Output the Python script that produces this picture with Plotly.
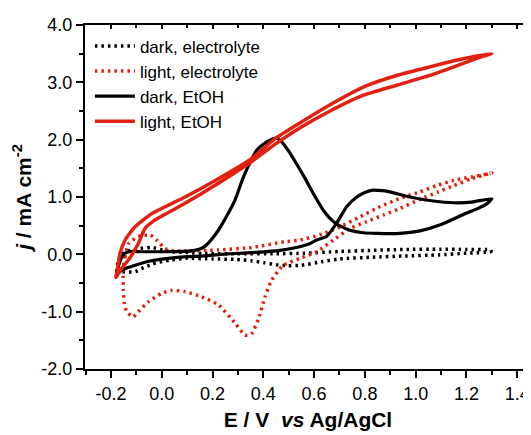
import plotly.graph_objects as go

# ---------------- data ----------------
# dark, electrolyte (black dotted loop)
dark_el_E = [-0.178, -0.17, -0.15, -0.13, -0.09, -0.04, 0.0, 0.03, 0.10, 0.163, 0.30, 0.45,
             0.563, 0.70, 0.83, 0.95, 1.096, 1.20, 1.296,
             1.296, 1.20, 1.09, 0.95, 0.83, 0.70, 0.63, 0.55, 0.497, 0.45, 0.403, 0.35,
             0.296, 0.20, 0.097, 0.03, -0.037, -0.08, -0.103, -0.14, -0.17, -0.178]
dark_el_j = [-0.35, -0.09, 0.02, 0.06, 0.10, 0.12, 0.08, 0.05, 0.03, 0.014, 0.01, 0.01,
             0.02, 0.05, 0.07, 0.085, 0.09, 0.085, 0.075,
             0.05, 0.02, -0.01, -0.03, -0.05, -0.08, -0.13, -0.19, -0.20, -0.18, -0.145, -0.11,
             -0.09, -0.08, -0.07, -0.10, -0.17, -0.25, -0.30, -0.31, -0.30, -0.35]

# light, electrolyte (red dotted loop)
light_el_E = [-0.152, -0.145, -0.13, -0.092, -0.046, -0.02, 0.013, 0.05, 0.092, 0.223, 0.354,
              0.485, 0.545, 0.623, 0.702, 0.781, 0.859, 0.938, 1.017, 1.089, 1.15, 1.22, 1.29,
              1.30, 1.22, 1.15, 1.089, 1.017, 0.938, 0.872, 0.807, 0.741, 0.676, 0.61, 0.545,
              0.492, 0.472, 0.433, 0.407, 0.38, 0.354, 0.328, 0.289, 0.223, 0.157, 0.092, 0.039,
              0.0, -0.053, -0.092, -0.112, -0.138, -0.147, -0.151, -0.152, -0.152]
light_el_j = [-0.30, -0.05, 0.19, 0.31, 0.34, 0.25, 0.10, 0.06, 0.06, 0.075, 0.12,
              0.22, 0.25, 0.34, 0.48, 0.655, 0.83, 0.975, 1.09, 1.21, 1.29, 1.35, 1.41,
              1.42, 1.32, 1.20, 1.09, 0.96, 0.80, 0.685, 0.57, 0.45, 0.25, 0.045, -0.07,
              -0.16, -0.22, -0.45, -0.74, -1.14, -1.38, -1.41, -1.20, -0.88, -0.74, -0.65, -0.63,
              -0.68, -0.83, -1.00, -1.09, -1.00, -0.85, -0.62, -0.39, -0.30]

# dark, EtOH (black solid loop)
dark_et_E = [-0.180, -0.171, -0.150, -0.105, -0.05, 0.026, 0.10, 0.157, 0.269, 0.37, 0.466,
             0.53, 0.584, 0.61, 0.649, 0.688, 0.728, 0.768, 0.80, 0.833, 0.87, 0.899, 0.977,
             1.069, 1.15, 1.22, 1.30,
             1.28, 1.25, 1.19, 1.10, 1.017, 0.938, 0.846, 0.794, 0.741, 0.70, 0.676, 0.636,
             0.597, 0.565, 0.53, 0.50, 0.475, 0.453, 0.43, 0.40, 0.375, 0.354, 0.32, 0.289,
             0.255, 0.223, 0.20, 0.18, 0.16, 0.13, 0.08, 0.0, -0.08, -0.12, -0.14, -0.155, -0.17,
             -0.180]
dark_et_j = [-0.40, -0.33, -0.26, -0.19, -0.12, -0.07, -0.04, -0.03, 0.01, 0.035, 0.07,
             0.12, 0.19, 0.25, 0.31, 0.54, 0.83, 1.00, 1.08, 1.12, 1.11, 1.09, 1.00,
             0.93, 0.90, 0.91, 0.97,
             0.88, 0.81, 0.70, 0.52, 0.41, 0.365, 0.365, 0.376, 0.42, 0.50, 0.57, 0.77,
             1.06, 1.32, 1.585, 1.80, 1.95, 2.02, 2.00, 1.92, 1.82, 1.66, 1.33, 0.95,
             0.66, 0.42, 0.28, 0.18, 0.11, 0.07, 0.05, 0.045, 0.045, 0.05, 0.03, -0.03, -0.20,
             -0.40]

# light, EtOH (red solid loop)
light_et_E = [-0.180, -0.171, -0.150, -0.131, -0.092, -0.066, -0.026, 0.092, 0.223, 0.354,
              0.45, 0.55, 0.663, 0.794, 0.925, 1.056, 1.187, 1.27, 1.30,
              1.187, 1.056, 0.925, 0.80, 0.663, 0.55, 0.45, 0.354, 0.223, 0.092,
              -0.039, -0.105, -0.144, -0.164, -0.177, -0.180]
light_et_j = [-0.40, -0.33, -0.20, -0.10, 0.19, 0.45, 0.60, 0.89, 1.24, 1.62,
              1.93, 2.22, 2.50, 2.775, 2.95, 3.12, 3.33, 3.46, 3.50,
              3.41, 3.27, 3.12, 2.93, 2.61, 2.31, 2.03, 1.67, 1.32, 1.00,
              0.71, 0.48, 0.25, 0.02, -0.33, -0.40]

series_names = ["dark, electrolyte", "light, electrolyte", "dark, EtOH", "light, EtOH"]

x_tick_vals = [-0.2, 0.0, 0.2, 0.4, 0.6, 0.8, 1.0, 1.2, 1.4]
x_tick_text = ["-0.2", "0.0", "0.2", "0.4", "0.6", "0.8", "1.0", "1.2", "1.4"]
y_tick_vals = [-2, -1, 0, 1, 2, 3, 4]
y_tick_text = ["-2.0", "-1.0", "0.0", "1.0", "2.0", "3.0", "4.0"]

# ---------------- figure ----------------
RED = "#E2200F"
FONT = "Liberation Sans, Arial, Helvetica, sans-serif"
DOT = "2.5px,4px"

fig = go.Figure()
fig.add_trace(go.Scatter(x=dark_el_E, y=dark_el_j, mode="lines", name=series_names[0],
                         line=dict(color="black", width=3.5, dash=DOT, shape="spline", smoothing=0.5)))
fig.add_trace(go.Scatter(x=light_el_E, y=light_el_j, mode="lines", name=series_names[1],
                         line=dict(color=RED, width=3.5, dash=DOT, shape="spline", smoothing=0.5)))
fig.add_trace(go.Scatter(x=dark_et_E, y=dark_et_j, mode="lines", name=series_names[2],
                         line=dict(color="black", width=3.2, shape="spline", smoothing=0.5)))
fig.add_trace(go.Scatter(x=light_et_E, y=light_et_j, mode="lines", name=series_names[3],
                         line=dict(color=RED, width=3.5, shape="spline", smoothing=0.5)))
# helper trace so the top (mirror) axis with inward ticks is drawn
fig.add_trace(go.Scatter(x=[0.5], y=[None], xaxis="x2", mode="lines", showlegend=False,
                         hoverinfo="skip"))

axis_common = dict(showgrid=False, zeroline=False, linecolor="black", linewidth=2,
                   tickcolor="black", tickwidth=1.5, automargin=False)

# the page body adds an 8 px offset, so the figure is 8 px smaller and margins shifted
fig.update_layout(
    width=523, height=427,
    margin=dict(l=77, r=0, t=17, b=66, autoexpand=False),
    paper_bgcolor="white", plot_bgcolor="white",
    font=dict(family=FONT, color="black", size=17),
    hovermode=False,
    showlegend=True,
    legend=dict(x=0.011, y=0.99, xanchor="left", yanchor="top",
                bgcolor="rgba(0,0,0,0)", font=dict(size=17, family=FONT),
                tracegroupgap=0, itemwidth=40),
    xaxis=dict(range=[-0.302, 1.454], tickvals=x_tick_vals, ticktext=x_tick_text,
               ticks="outside", ticklen=7, showline=True, mirror=False,
               minor=dict(ticks="outside", ticklen=4, dtick=0.1, tick0=-0.3,
                          tickcolor="black", tickwidth=1.5),
               title=dict(text="<b>E / V  <i>vs</i> Ag/AgCl</b>",
                          font=dict(size=21, family=FONT), standoff=10),
               tickfont=dict(size=18, family=FONT),
               **axis_common),
    xaxis2=dict(overlaying="x", matches="x", side="top", anchor="y",
                range=[-0.302, 1.454], tickvals=x_tick_vals, showticklabels=False,
                ticks="inside", ticklen=4, showline=True,
                minor=dict(ticks="inside", ticklen=2.5, dtick=0.1, tick0=-0.3,
                           tickcolor="black", tickwidth=1.5),
                **axis_common),
    yaxis=dict(range=[-2, 4], tickvals=y_tick_vals, ticktext=y_tick_text,
               ticks="outside", ticklen=7, showline=True, mirror=False,
               minor=dict(ticks="outside", ticklen=4, dtick=0.5, tick0=0,
                          tickcolor="black", tickwidth=1.5),
               title=dict(text="<b><i>j</i> / mA cm<sup>-2</sup></b>",
                          font=dict(size=21, family=FONT), standoff=4),
               tickfont=dict(size=18, family=FONT),
               **axis_common),
)

fig.write_html("out.html")
